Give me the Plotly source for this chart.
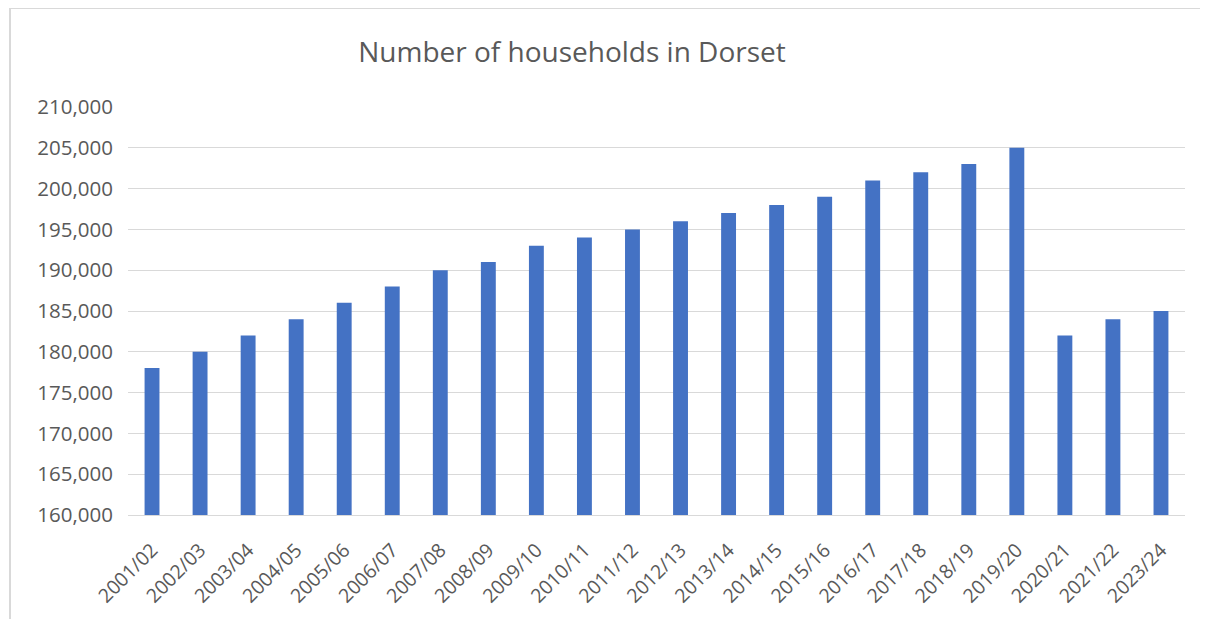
import plotly.graph_objects as go

years = ["2001/02", "2002/03", "2003/04", "2004/05", "2005/06", "2006/07", "2007/08",
         "2008/09", "2009/10", "2010/11", "2011/12", "2012/13", "2013/14", "2014/15",
         "2015/16", "2016/17", "2017/18", "2018/19", "2019/20", "2020/21", "2021/22",
         "2023/24"]
households = [178000, 180000, 182000, 184000, 186000, 188000, 190000, 191000, 193000,
              194000, 195000, 196000, 197000, 198000, 199000, 201000, 202000, 203000,
              205000, 182000, 184000, 185000]
y_ticks = list(range(160000, 210001, 5000))

OFF = 8  # page body margin
W, H = 1200, 611
ml, mr, mt, mb = 128 - OFF, 23, 107 - OFF, 104
pw, ph = W - ml - mr, H - mt - mb

fig = go.Figure(go.Bar(x=years, y=households, marker_color="#4472C4",
                       marker_line_width=0))

def px2paper_x(px):
    return (px - OFF - ml) / pw

def px2paper_y(py):
    return (H - mb - (py - OFF)) / ph

fig.update_layout(
    width=W, height=H,
    margin=dict(l=ml, r=mr, t=mt, b=mb),
    paper_bgcolor="white", plot_bgcolor="white",
    bargap=0.69,
    font=dict(family="Open Sans, Noto Sans, sans-serif", color="#595959", size=16),
    title=dict(text="Number of households in Dorset", x=(572 - OFF) / W, xref="container",
               xanchor="center", y=1 - (52 - OFF) / H, yanchor="middle",
               font=dict(size=28, color="#595959")),
    xaxis=dict(tickangle=-45, showgrid=False, showline=True, linecolor="#d9d9d9",
               linewidth=1, ticks="", automargin=False, ticklabelstandoff=15,
               tickfont=dict(size=19.5, color="#595959")),
    yaxis=dict(range=[160000, 210000], tickvals=y_ticks,
               ticktext=[f"{v:,}" for v in y_ticks],
               showgrid=True, gridcolor="#d9d9d9", gridwidth=1, zeroline=False,
               showline=False, ticks="", ticklabelstandoff=14, automargin=False,
               tickfont=dict(size=20.5, color="#595959")),
    showlegend=False,
    shapes=[
        dict(type="line", xref="paper", yref="paper",
             x0=px2paper_x(10), x1=px2paper_x(10),
             y0=px2paper_y(619), y1=px2paper_y(8),
             line=dict(color="#d9d9d9", width=2), layer="below"),
        dict(type="line", xref="paper", yref="paper",
             x0=px2paper_x(9), x1=px2paper_x(1208),
             y0=px2paper_y(8.5), y1=px2paper_y(8.5),
             line=dict(color="#d9d9d9", width=1), layer="below"),
    ],
)

fig.write_html("out.html", config={"displayModeBar": False})
